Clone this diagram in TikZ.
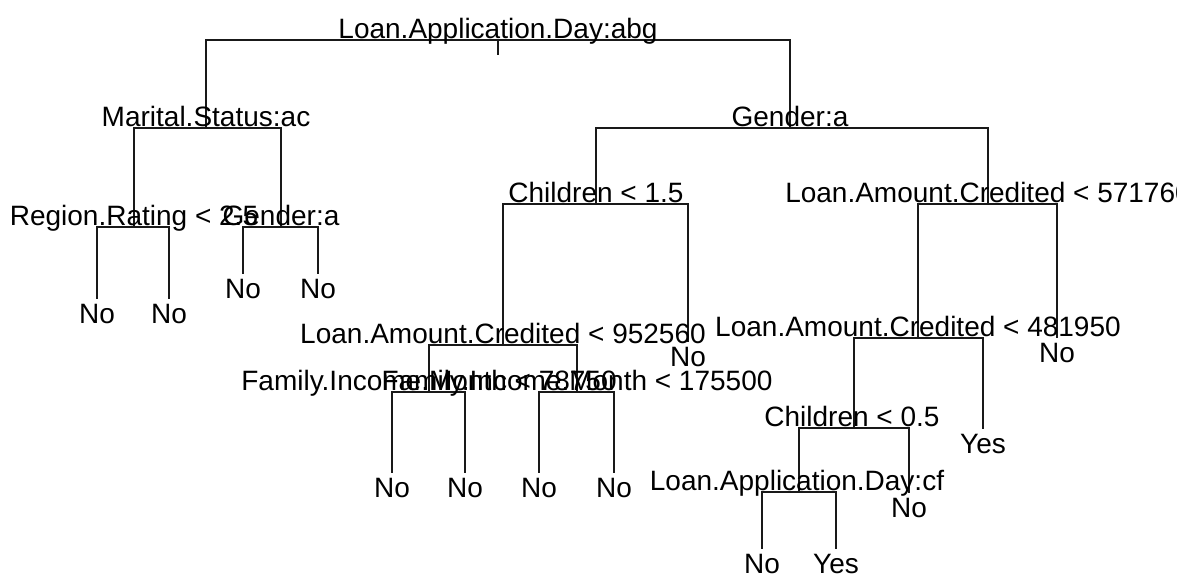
\documentclass[tikz,border=0pt]{standalone}
\usepackage{fontspec}
\setmainfont{Liberation Sans}

\tikzset{every picture/.style={line width=1.1pt}}
\tikzset{
  split/.style={anchor=base, inner sep=0pt, yshift=1pt, font=\fontsize{21}{24}\selectfont},
  leaf/.style={anchor=north, inner sep=0pt, yshift=-4pt, font=\fontsize{21}{24}\selectfont},
  branch/.style={draw=black!90, line cap=rect}
}

\begin{document}
\begin{tikzpicture}[x=0.75pt,y=0.75pt,yscale=-1,xscale=1]
\useasboundingbox (0,0) rectangle (1177,577);
\clip (0,0) rectangle (1177,577);

%Tree points
\coordinate (root) at (498,40);
\coordinate (rootstub) at (498,54);
\coordinate (marital) at (206,128);
\coordinate (gendA) at (790,128);
\coordinate (region) at (134,227);
\coordinate (gendB) at (281,227);
\coordinate (leafA) at (97,298);
\coordinate (leafB) at (169,298);
\coordinate (leafC) at (243,273);
\coordinate (leafD) at (318,273);
\coordinate (childA) at (596,204);
\coordinate (amountA) at (988,204);
\coordinate (amountB) at (503,345);
\coordinate (leafE) at (688,341);
\coordinate (incomeA) at (429,392);
\coordinate (incomeB) at (577,392);
\coordinate (leafF) at (392,472);
\coordinate (leafG) at (465,472);
\coordinate (leafH) at (539,472);
\coordinate (leafI) at (614,472);
\coordinate (amountC) at (918,338);
\coordinate (leafJ) at (1057,337);
\coordinate (childB) at (854,428);
\coordinate (leafK) at (983,428);
\coordinate (dayB) at (799,492);
\coordinate (leafL) at (909,492);
\coordinate (leafM) at (762,548);
\coordinate (leafN) at (836,548);

%Straight Lines
\draw [branch] (root) -- (rootstub) ;
\draw [branch] (root) -| (marital) ;
\draw [branch] (root) -| (gendA) ;
\draw [branch] (marital) -| (region) ;
\draw [branch] (marital) -| (gendB) ;
\draw [branch] (region) -| (leafA) ;
\draw [branch] (region) -| (leafB) ;
\draw [branch] (gendB) -| (leafC) ;
\draw [branch] (gendB) -| (leafD) ;
\draw [branch] (gendA) -| (childA) ;
\draw [branch] (gendA) -| (amountA) ;
\draw [branch] (childA) -| (amountB) ;
\draw [branch] (childA) -| (leafE) ;
\draw [branch] (amountB) -| (incomeA) ;
\draw [branch] (amountB) -| (incomeB) ;
\draw [branch] (incomeA) -| (leafF) ;
\draw [branch] (incomeA) -| (leafG) ;
\draw [branch] (incomeB) -| (leafH) ;
\draw [branch] (incomeB) -| (leafI) ;
\draw [branch] (amountA) -| (amountC) ;
\draw [branch] (amountA) -| (leafJ) ;
\draw [branch] (amountC) -| (childB) ;
\draw [branch] (amountC) -| (leafK) ;
\draw [branch] (childB) -| (dayB) ;
\draw [branch] (childB) -| (leafL) ;
\draw [branch] (dayB) -| (leafM) ;
\draw [branch] (dayB) -| (leafN) ;

% Text Node
\node [split] (rootlab) at (root) {Loan.Application.Day:abg};
\node [split] (maritallab) at (marital) {Marital.Status:ac};
\node [split] (gendAlab) at (gendA) {Gender:a};
\node [split] (regionlab) at (region) {Region.Rating < 2.5};
\node [split] (gendBlab) at (gendB) {Gender:a};
\node [split] (childAlab) at (childA) {Children < 1.5};
\node [split] (amountAlab) at (amountA) {Loan.Amount.Credited < 571760};
\node [split] (amountBlab) at (amountB) {Loan.Amount.Credited < 952560};
\node [split] (incomeAlab) at (incomeA) {Family.Income.Month < 78750};
\node [split] (incomeBlab) at (incomeB) {Family.Income.Month < 175500};
\node [split] (amountClab) at (amountC) {Loan.Amount.Credited < 481950};
\node [split, xshift=-1.5pt] (childBlab) at (childB) {Children < 0.5};
\node [split, xshift=-1.5pt] (dayBlab) at (dayB) {Loan.Application.Day:cf};
% Leaf Node
\node [leaf] (leafAlab) at (leafA) {No};
\node [leaf] (leafBlab) at (leafB) {No};
\node [leaf] (leafClab) at (leafC) {No};
\node [leaf] (leafDlab) at (leafD) {No};
\node [leaf] (leafElab) at (leafE) {No};
\node [leaf] (leafFlab) at (leafF) {No};
\node [leaf] (leafGlab) at (leafG) {No};
\node [leaf] (leafHlab) at (leafH) {No};
\node [leaf] (leafIlab) at (leafI) {No};
\node [leaf] (leafJlab) at (leafJ) {No};
\node [leaf] (leafKlab) at (leafK) {Yes};
\node [leaf] (leafLlab) at (leafL) {No};
\node [leaf] (leafMlab) at (leafM) {No};
\node [leaf] (leafNlab) at (leafN) {Yes};

\end{tikzpicture}
\end{document}
